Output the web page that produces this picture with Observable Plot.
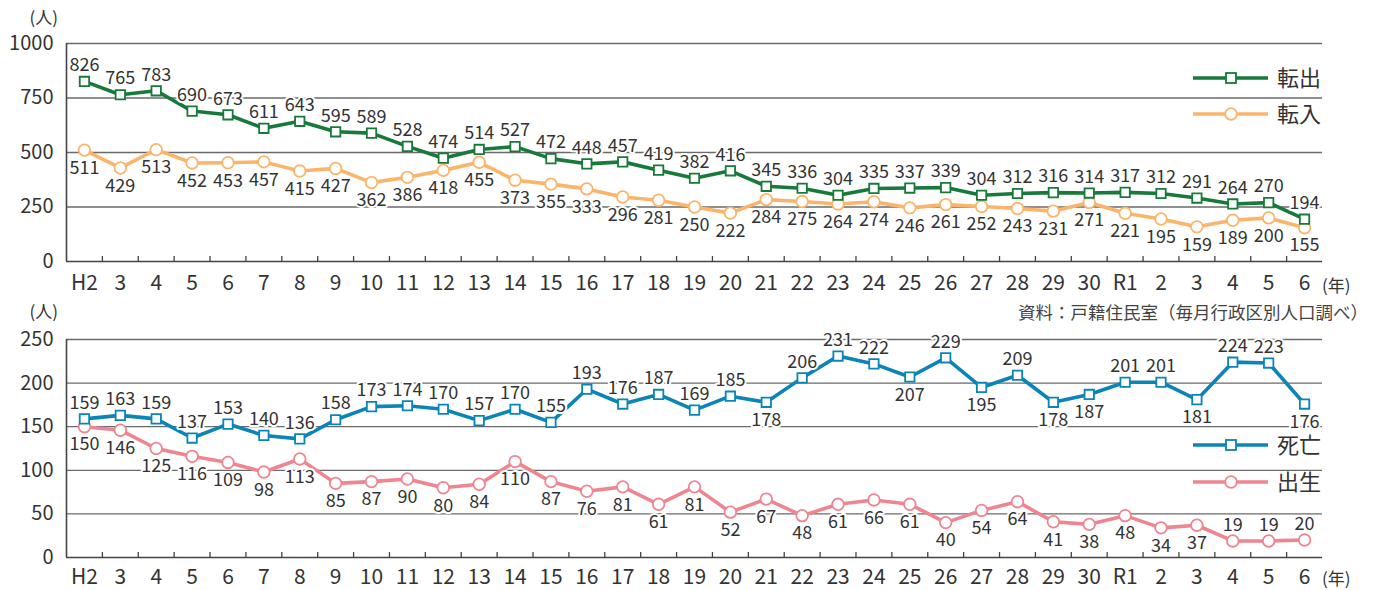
<!DOCTYPE html>
<html><head><meta charset="utf-8">
<script src="https://cdn.jsdelivr.net/npm/d3@7"></script>
<script src="https://cdn.jsdelivr.net/npm/@observablehq/plot@0.6"></script>
<style>
body{margin:0;background:#fff;}
#wrap{position:relative;width:1386px;height:590px;font-family:"Noto Sans CJK JP","Noto Sans",sans-serif;color:#333;overflow:hidden;}
.panel{position:absolute;left:0;}
.note{position:absolute;white-space:nowrap;line-height:1;transform:translateY(-50%);}
#legend{position:absolute;left:0;top:0;pointer-events:none;}
</style></head><body>
<div id="wrap">
  <div id="top" class="panel" style="top:0"></div>
  <div id="bottom" class="panel" style="top:295px"></div>
  <div class="note" style="right:1328px;top:16px;font-size:17px;">(人)</div>
  <div class="note" style="right:1328px;top:310px;font-size:17px;">(人)</div>
  <div class="note" style="left:1322px;top:284px;font-size:17px;">(年)</div>
  <div class="note" style="left:1322px;top:577px;font-size:17px;">(年)</div>
  <div class="note" style="right:18px;top:312px;font-size:17.5px;color:#444;">資料：戸籍住民室（毎月行政区別人口調べ）</div>
  <svg id="legend" width="1386" height="590"></svg>
</div>
<script>
// ---- data ----
const ids = ["H2","H3","H4","H5","H6","H7","H8","H9","H10","H11","H12","H13","H14","H15","H16","H17","H18","H19","H20","H21","H22","H23","H24","H25","H26","H27","H28","H29","H30","R1","R2","R3","R4","R5","R6"];
const tenshutsu = [826,765,783,690,673,611,643,595,589,528,474,514,527,472,448,457,419,382,416,345,336,304,335,337,339,304,312,316,314,317,312,291,264,270,194];
const tennyu    = [511,429,513,452,453,457,415,427,362,386,418,455,373,355,333,296,281,250,222,284,275,264,274,246,261,252,243,231,271,221,195,159,189,200,155];
const shibo     = [159,163,159,137,153,140,136,158,173,174,170,157,170,155,193,176,187,169,185,178,206,231,222,207,229,195,209,178,187,201,201,181,224,223,176];
const shussei   = [150,146,125,116,109,98,113,85,87,90,80,84,110,87,76,81,61,81,52,67,48,61,66,61,40,54,64,41,38,48,34,37,19,19,20];
const topTicks = [0,250,500,750,1000];
const bottomTicks = [0,50,100,150,200,250];
// label placement (style): which points get their value label below / above
const shiboBelow = ["H21","H25","H27","H29","H30","R3","R6"];
const shusseiAbove = ["R4","R5","R6"];

const xLabels = ids.map((d,i) => (i === 0 || d === "R1") ? d : d.slice(1));
const idx = d3.range(ids.length);
const xDomain = [-0.5, ids.length - 0.5];
const boundaries = d3.range(ids.length - 1).map(i => i + 0.5);

const W = 1386, ML = 66, MR = 64;
const FONT = '"Noto Sans CJK JP","Noto Sans",sans-serif';

function rows(values){ return values.map((v,i)=>({i, id: ids[i], v})); }

function makePanel({ticks, series, height, mt, mb, pad}){
  const yMax = ticks[ticks.length-1];
  const plotH = height - mt - mb;
  const tickLen = yMax * 5 / plotH;
  const marks = [
    Plot.ruleY(ticks.filter(t => t > 0), {stroke:"#6a6a6a", strokeWidth:1.3}),
    Plot.ruleX(boundaries, {y1:0, y2:tickLen, stroke:"#444", strokeWidth:1.3}),
    Plot.ruleY([0], {stroke:"#444", strokeWidth:1.6}),
    Plot.ruleX([xDomain[0]], {stroke:"#444", strokeWidth:1.6}),
    Plot.axisY({ticks, tickFormat: d => String(d), tickSize:0, tickPadding:13, fontSize:20, label:null, fill:"#333"}),
    Plot.axisX({ticks: idx, tickFormat: i => xLabels[i], tickSize:0, tickPadding:pad, fontSize:21, label:null, fill:"#333"})
  ];
  for (const s of series){
    const data = rows(s.values);
    marks.push(Plot.line(data, {x:"i", y:"v", stroke:s.color, strokeWidth:3.6}));
  }
  for (const s of series){
    const data = rows(s.values);
    marks.push(Plot.dot(data, {x:"i", y:"v", symbol:s.symbol, r:s.symbol==="square"?5.3:5.8, fill:"white", stroke:s.color, strokeWidth:1.8}));
  }
  for (const s of series){
    const data = rows(s.values);
    const above = data.filter(d => s.above(d));
    const below = data.filter(d => !s.above(d));
    const common = {x:"i", y:"v", text: d => String(d.v), fontSize:18, fill:"#333", stroke:"white", strokeWidth:4, paintOrder:"stroke"};
    marks.push(Plot.text(above, {...common, dy:-16}));
    marks.push(Plot.text(below, {...common, dy:18}));
  }
  return Plot.plot({
    width: W, height, marginLeft: ML, marginRight: MR, marginTop: mt, marginBottom: mb,
    x: {type:"linear", domain: xDomain},
    y: {domain: [0, yMax]},
    style: {fontFamily: FONT, color:"#333", background:"transparent", overflow:"visible"},
    marks
  });
}

const C = {green:"#17793a", orange:"#fbb56b", blue:"#0b84b8", pink:"#ef8590"};

document.getElementById("top").appendChild(makePanel({
  ticks: topTicks, height: 295, mt: 43, mb: 34, pad: 14,
  series: [
    {values: tennyu, color: C.orange, symbol: "circle", above: d => false},
    {values: tenshutsu, color: C.green, symbol: "square", above: d => true}
  ]
}));
document.getElementById("bottom").appendChild(makePanel({
  ticks: bottomTicks, height: 295, mt: 44, mb: 33, pad: 12,
  series: [
    {values: shussei, color: C.pink, symbol: "circle", above: d => shusseiAbove.includes(d.id)},
    {values: shibo, color: C.blue, symbol: "square", above: d => !shiboBelow.includes(d.id)}
  ]
}));

// legends
const legendItems = [
  {name:"転出", color:C.green, symbol:"square", cy:78},
  {name:"転入", color:C.orange, symbol:"circle", cy:114},
  {name:"死亡", color:C.blue, symbol:"square", cy:445},
  {name:"出生", color:C.pink, symbol:"circle", cy:482}
];
const lg = d3.select("#legend");
for (const it of legendItems){
  const g = lg.append("g");
  g.append("line").attr("x1",1193).attr("x2",1268).attr("y1",it.cy).attr("y2",it.cy)
    .attr("stroke",it.color).attr("stroke-width",3.6);
  if (it.symbol === "square"){
    g.append("rect").attr("x",1231-5).attr("y",it.cy-5).attr("width",10).attr("height",10)
      .attr("fill","white").attr("stroke",it.color).attr("stroke-width",1.8);
  } else {
    g.append("circle").attr("cx",1231).attr("cy",it.cy).attr("r",5.8)
      .attr("fill","white").attr("stroke",it.color).attr("stroke-width",1.8);
  }
  g.append("text").attr("x",1277).attr("y",it.cy).attr("dy","0.36em")
    .attr("font-size",22).attr("font-family",FONT).attr("fill","#333").text(it.name);
}
</script>
</body></html>
